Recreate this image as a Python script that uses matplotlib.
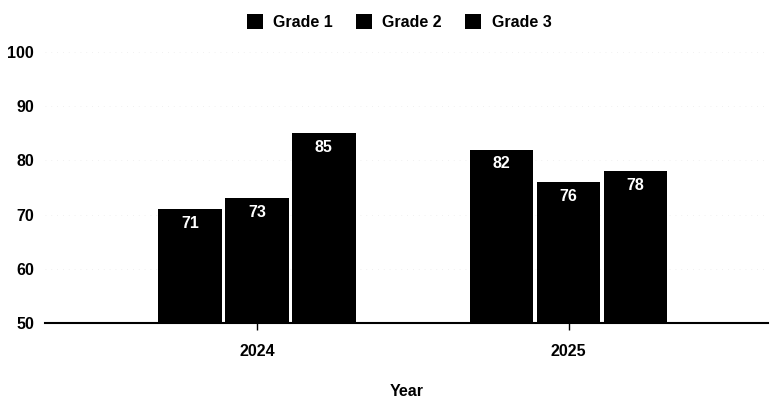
import matplotlib
matplotlib.use("Agg")
import matplotlib.pyplot as plt
import numpy as np

years = ["2024", "2025"]
series_names = ["Grade 1", "Grade 2", "Grade 3"]
grade1 = [71, 82]
grade2 = [73, 76]
grade3 = [85, 78]
series = [grade1, grade2, grade3]

plt.rcParams['font.family'] = ['Liberation Sans', 'DejaVu Sans']

fig = plt.figure(figsize=(7.7, 3.99), dpi=100)
ax = fig.add_axes([45/770, 1-323/399, (768-45)/770, (323-52)/399])

x = np.arange(len(years))
width = 0.203
step = 0.215
for i, (name, vals) in enumerate(zip(series_names, series)):
    pos = x + (i - 1) * step
    bars = ax.bar(pos, vals, width=width, bottom=0, color='black', label=name, zorder=3)
    for b, v in zip(bars, vals):
        ax.text(b.get_x() + b.get_width()/2, v - 2.6, str(v), ha='center', va='center',
                color='white', fontsize=11.5, fontweight='bold', zorder=4)

ax.set_ylim(50, 100)
ax.set_xlim(-0.68, 1.64)
ax.set_yticks([50, 60, 70, 80, 90, 100])
ax.set_xticks(x)
ax.set_xticklabels(years)
ax.grid(axis='y', color='#ececec', linewidth=0.6, linestyle=(0, (1, 6)), zorder=0)
for s in ['top', 'right', 'left']:
    ax.spines[s].set_visible(False)
ax.spines['bottom'].set_linewidth(1.5)
ax.spines['bottom'].set_color('black')
ax.tick_params(axis='y', length=0, pad=8, labelsize=11.5)
ax.tick_params(axis='x', length=5, width=1, pad=10, labelsize=11.5)
for lbl in ax.get_xticklabels() + ax.get_yticklabels():
    lbl.set_fontweight('bold')
ax.set_xlabel("Year", fontsize=11.5, fontweight='bold', labelpad=18)

leg = fig.legend(loc='upper center', bbox_to_anchor=(399/770, 1.0), ncol=3, frameon=False,
                 handlelength=1.0, handleheight=1.0, handletextpad=0.65, columnspacing=1.45,
                 prop={'weight': 'bold', 'size': 11.5})

fig.savefig("out.png", dpi=100)
